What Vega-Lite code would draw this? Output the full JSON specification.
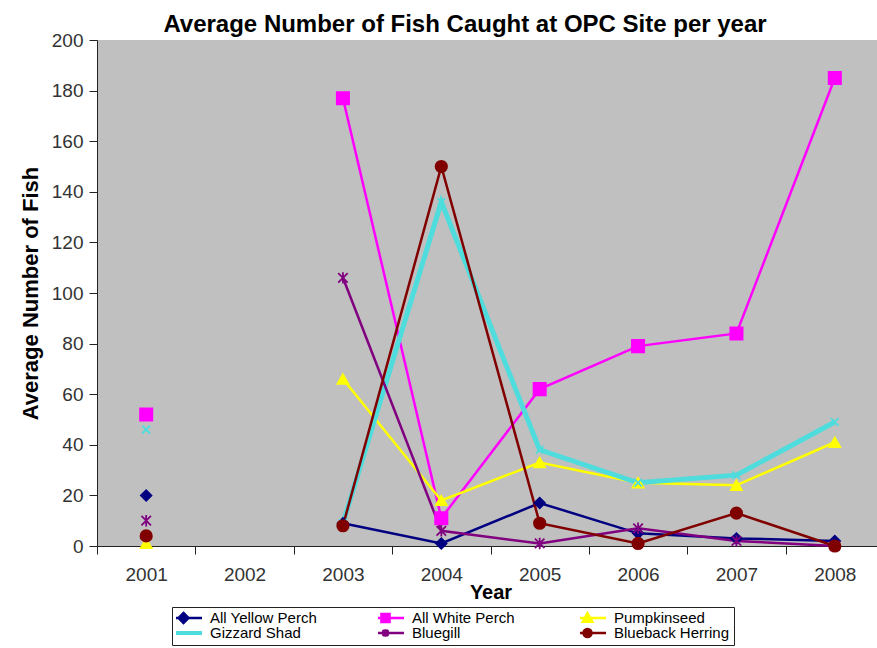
{
  "$schema": "https://vega.github.io/schema/vega-lite/v6.json",
  "width": 780,
  "height": 506,
  "autosize": {"type": "none"},
  "padding": {"left": 97, "top": 40, "right": 0, "bottom": 102},
  "background": "white",
  "config": {
    "font": "Liberation Sans",
    "view": {"fill": "#C0C0C0", "stroke": null}
  },
  "title": {
    "text": "Average Number of Fish Caught at OPC Site per year",
    "fontSize": 24,
    "fontWeight": "bold",
    "color": "black",
    "anchor": "middle",
    "frame": "group",
    "dx": -22,
    "offset": -6
  },
  "data": {
    "values": [
      {"year": "2001", "series": "All Yellow Perch", "value": 20},
      {"year": "2002", "series": "All Yellow Perch", "value": null},
      {"year": "2003", "series": "All Yellow Perch", "value": 9},
      {"year": "2004", "series": "All Yellow Perch", "value": 1},
      {"year": "2005", "series": "All Yellow Perch", "value": 17},
      {"year": "2006", "series": "All Yellow Perch", "value": 5},
      {"year": "2007", "series": "All Yellow Perch", "value": 3},
      {"year": "2008", "series": "All Yellow Perch", "value": 2},
      {"year": "2001", "series": "All White Perch", "value": 52},
      {"year": "2002", "series": "All White Perch", "value": null},
      {"year": "2003", "series": "All White Perch", "value": 177},
      {"year": "2004", "series": "All White Perch", "value": 11},
      {"year": "2005", "series": "All White Perch", "value": 62},
      {"year": "2006", "series": "All White Perch", "value": 79},
      {"year": "2007", "series": "All White Perch", "value": 84},
      {"year": "2008", "series": "All White Perch", "value": 185},
      {"year": "2001", "series": "Pumpkinseed", "value": 1},
      {"year": "2002", "series": "Pumpkinseed", "value": null},
      {"year": "2003", "series": "Pumpkinseed", "value": 66},
      {"year": "2004", "series": "Pumpkinseed", "value": 18},
      {"year": "2005", "series": "Pumpkinseed", "value": 33},
      {"year": "2006", "series": "Pumpkinseed", "value": 25},
      {"year": "2007", "series": "Pumpkinseed", "value": 24},
      {"year": "2008", "series": "Pumpkinseed", "value": 41},
      {"year": "2001", "series": "Gizzard Shad", "value": 46},
      {"year": "2002", "series": "Gizzard Shad", "value": null},
      {"year": "2003", "series": "Gizzard Shad", "value": 9},
      {"year": "2004", "series": "Gizzard Shad", "value": 136},
      {"year": "2005", "series": "Gizzard Shad", "value": 38},
      {"year": "2006", "series": "Gizzard Shad", "value": 25},
      {"year": "2007", "series": "Gizzard Shad", "value": 28},
      {"year": "2008", "series": "Gizzard Shad", "value": 49},
      {"year": "2001", "series": "Bluegill", "value": 10},
      {"year": "2002", "series": "Bluegill", "value": null},
      {"year": "2003", "series": "Bluegill", "value": 106},
      {"year": "2004", "series": "Bluegill", "value": 6},
      {"year": "2005", "series": "Bluegill", "value": 1},
      {"year": "2006", "series": "Bluegill", "value": 7},
      {"year": "2007", "series": "Bluegill", "value": 2},
      {"year": "2008", "series": "Bluegill", "value": 0},
      {"year": "2001", "series": "Blueback Herring", "value": 4},
      {"year": "2002", "series": "Blueback Herring", "value": null},
      {"year": "2003", "series": "Blueback Herring", "value": 8},
      {"year": "2004", "series": "Blueback Herring", "value": 150},
      {"year": "2005", "series": "Blueback Herring", "value": 9},
      {"year": "2006", "series": "Blueback Herring", "value": 1},
      {"year": "2007", "series": "Blueback Herring", "value": 13},
      {"year": "2008", "series": "Blueback Herring", "value": 0}
    ]
  },
  "encoding": {
    "x": {
      "field": "year",
      "type": "ordinal",
      "scale": {
        "type": "band",
        "domain": ["2001", "2002", "2003", "2004", "2005", "2006", "2007", "2008"],
        "range": [0, 787],
        "paddingInner": 0,
        "paddingOuter": 0
      },
      "axis": {
        "title": "Year",
        "titleFontSize": 20,
        "titleFontWeight": "bold",
        "titleColor": "black",
        "titlePadding": -2,
        "labelFontSize": 19,
        "labelColor": "#333333",
        "labelPadding": 11,
        "labelAngle": 0,
        "tickSize": 8,
        "tickColor": "#222222",
        "domainColor": "#222222",
        "tickBand": "extent",
        "grid": false
      }
    },
    "y": {
      "field": "value",
      "type": "quantitative",
      "scale": {"domain": [0, 200], "nice": false},
      "axis": {
        "title": "Average Number of Fish",
        "titleFontSize": 22,
        "titleFontWeight": "bold",
        "titleColor": "black",
        "titlePadding": 9,
        "values": [0, 20, 40, 60, 80, 100, 120, 140, 160, 180, 200],
        "labelFontSize": 19,
        "labelColor": "#333333",
        "labelPadding": 6,
        "tickSize": 8,
        "tickColor": "#222222",
        "domainColor": "#222222",
        "grid": false
      }
    },
    "color": {
      "field": "series",
      "type": "nominal",
      "scale": {
        "domain": ["All Yellow Perch", "All White Perch", "Pumpkinseed", "Gizzard Shad", "Bluegill", "Blueback Herring"],
        "range": ["#000080", "#FF00FF", "#FFFF00", "#4EDCDC", "#800080", "#800000"]
      },
      "legend": {
        "orient": "none",
        "direction": "horizontal",
        "legendX": 75,
        "legendY": 567,
        "columns": 3,
        "title": null,
        "labelFont": "Liberation Sans",
        "labelFontSize": 15,
        "labelColor": "black",
        "labelLimit": 300,
        "labelOffset": 19,
        "strokeColor": "#222222",
        "fillColor": "white",
        "padding": 4,
        "columnPadding": 52,
        "rowPadding": 0,
        "gridAlign": "all",
        "clipHeight": 14,
        "symbolSize": 1369,
        "symbolOffset": 0,
        "encode": {
          "symbols": {
            "update": {
              "shape": {"signal": "datum.value === 'All Yellow Perch' ? 'M-1,0H1M0,-0.27L0.27,0L0,0.27L-0.27,0Z' : datum.value === 'All White Perch' ? 'M-1,0H1M-0.22,-0.22H0.22V0.22H-0.22Z' : datum.value === 'Pumpkinseed' ? 'M-1,0H1M0,-0.26L0.26,0.2H-0.26Z' : datum.value === 'Gizzard Shad' ? 'M-1,0H1' : datum.value === 'Bluegill' ? 'M-1,0H1M-0.16,-0.16L0.16,0.16M-0.16,0.16L0.16,-0.16M0,-0.2V0.2' : 'M-1,0H1M0.22,0A0.22,0.22 0 1,1 -0.22,0A0.22,0.22 0 1,1 0.22,0Z'"},
              "fill": {"scale": "color", "field": "value"},
              "stroke": {"scale": "color", "field": "value"},
              "strokeWidth": {"signal": "datum.value === 'Gizzard Shad' ? 4 : 2.5"},
              "opacity": {"value": 1},
              "fillOpacity": {"value": 1},
              "strokeOpacity": {"value": 1}
            }
          }
        }
      }
    }
  },
  "layer": [
    {
      "mark": {"type": "line", "invalid": "break-paths-show-domains"},
      "encoding": {
        "strokeWidth": {
          "condition": {"test": "datum.series === 'Gizzard Shad'", "value": 5},
          "value": 2.5
        }
      }
    },
    {
      "mark": {"type": "point", "filled": true, "opacity": 1, "strokeWidth": 1.8},
      "encoding": {
        "stroke": {
          "condition": [
            {"test": "datum.series === 'All Yellow Perch'", "value": "#000080"},
            {"test": "datum.series === 'All White Perch'", "value": "#FF00FF"},
            {"test": "datum.series === 'Pumpkinseed'", "value": "#FFFF00"},
            {"test": "datum.series === 'Gizzard Shad'", "value": "#4EDCDC"},
            {"test": "datum.series === 'Bluegill'", "value": "#800080"}
          ],
          "value": "#800000"
        },
        "shape": {
          "condition": [
            {"test": "datum.series === 'All Yellow Perch'", "value": "diamond"},
            {"test": "datum.series === 'All White Perch'", "value": "square"},
            {"test": "datum.series === 'Pumpkinseed'", "value": "triangle-up"},
            {"test": "datum.series === 'Gizzard Shad'", "value": "M-1,-1L1,1M-1,1L1,-1"},
            {"test": "datum.series === 'Bluegill'", "value": "M-1,-1L1,1M-1,1L1,-1M0,-1.2V1.2"}
          ],
          "value": "circle"
        },
        "size": {
          "condition": [
            {"test": "datum.series === 'All White Perch'", "value": 150},
            {"test": "datum.series === 'Blueback Herring'", "value": 130},
            {"test": "datum.series === 'Pumpkinseed'", "value": 120},
            {"test": "datum.series === 'Gizzard Shad'", "value": 60},
            {"test": "datum.series === 'Bluegill'", "value": 90}
          ],
          "value": 110
        }
      }
    }
  ]
}
